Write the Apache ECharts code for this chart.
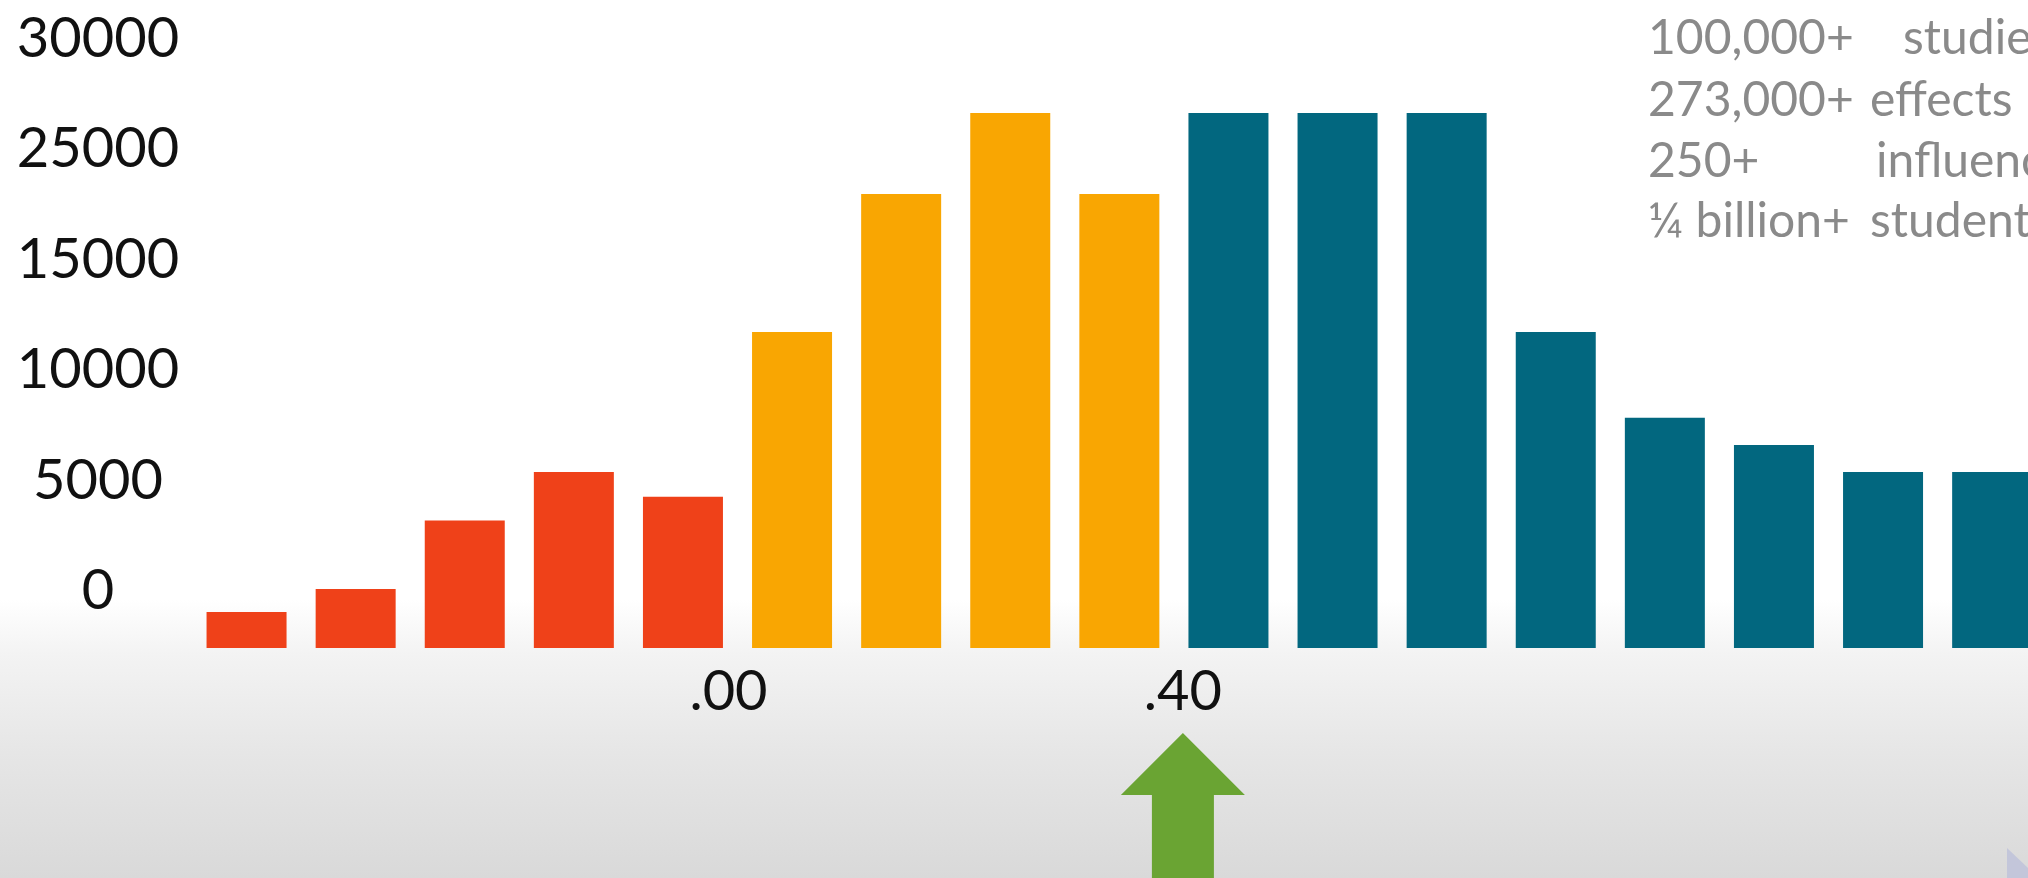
<!DOCTYPE html>
<html>
<head>
<meta charset="utf-8">
<script src="https://cdn.jsdelivr.net/npm/echarts@6/dist/echarts.min.js"></script>
<style>
  html, body { margin: 0; padding: 0; background: #ffffff; }
  #chart { width: 2028px; height: 878px; }
</style>
</head>
<body>
<div id="chart"></div>
<script>
// Effect-size bins (lower edge of each bin)
const binStarts = [-0.5, -0.4, -0.3, -0.2, -0.1, 0.0, 0.1, 0.2, 0.3, 0.4, 0.5, 0.6, 0.7, 0.8, 0.9, 1.0, 1.1];
// Number of effects per bin (in the drawn axis scale)
const effectCounts = [1630, 2670, 5770, 7970, 6850, 14310, 20560, 24230, 20560, 24230, 24230, 24230, 14310, 10430, 9190, 7970, 7970];
// Y tick labels as printed on the slide (bottom to top)
const yTickLabels = ['0', '5000', '10000', '15000', '25000', '30000'];
// X labels shown (bin edges)
const xShownEdges = [0.0, 0.4];
// Facts panel
const factNumbers = ['100,000+', '273,000+', '250+', '\u00BC billion+'];
const factWords = ['studies', 'effects', 'influences', 'students'];

const fmtEdge = v => (v < 0 ? '-' : '') + '.' + String(Math.round(Math.abs(v) * 100)).padStart(2, '0');

const chart = echarts.init(document.getElementById('chart'));
const catW = 109.1;
const labelFont = { fontFamily: 'Lato', fontSize: 56, color: '#111111' };
const hiddenAxis = { axisLine: { show: false }, axisTick: { show: false }, splitLine: { show: false } };
const option = {
  backgroundColor: '#ffffff',
  animation: false,
  grid: [
    // bars
    { left: 192, width: catW * binStarts.length, top: 96, bottom: 230, containLabel: false, outerBoundsMode: 'none' },
    // printed y scale of the slide (sits a little above the bar baseline)
    { left: 192, width: catW * binStarts.length, top: 39, bottom: 287, containLabel: false, outerBoundsMode: 'none' }
  ],
  xAxis: [
    Object.assign({
      type: 'category',
      gridIndex: 0,
      data: binStarts.map(fmtEdge),
      axisLabel: Object.assign({
        interval: 0,
        margin: 44,
        align: 'center',
        verticalAlign: 'middle',
        padding: [0, catW, 0, 0],
        formatter: (val, idx) => {
          const e = binStarts[idx];
          if (!xShownEdges.some(s => Math.abs(s - e) < 1e-9)) return '';
          return (e < 0.2 ? '{l|' : '{r|') + val + '}';
        },
        rich: {
          l: Object.assign({ padding: [0, 18, 0, 0] }, labelFont),
          r: Object.assign({ padding: [0, 0, 0, 18] }, labelFont)
        }
      }, labelFont)
    }, hiddenAxis),
    Object.assign({
      type: 'category', gridIndex: 1, data: binStarts.map(fmtEdge), show: false
    }, hiddenAxis)
  ],
  yAxis: [
    Object.assign({
      type: 'value', gridIndex: 0, min: 0, max: 25000, interval: 5000,
      axisLabel: { show: false }
    }, hiddenAxis),
    Object.assign({
      type: 'value', gridIndex: 1, min: 0, max: 25000, interval: 5000,
      axisLabel: Object.assign({
        margin: 94,
        align: 'center',
        verticalAlign: 'middle',
        showMinLabel: true,
        showMaxLabel: true,
        formatter: v => yTickLabels[Math.round(v / 5000)]
      }, labelFont)
    }, hiddenAxis)
  ],
  series: [{
    type: 'bar',
    xAxisIndex: 0,
    yAxisIndex: 0,
    data: effectCounts,
    barWidth: 80,
    itemStyle: {
      color: p => {
        const e = binStarts[p.dataIndex];
        if (e < -1e-9) return '#ef4119';
        if (e < 0.4 - 1e-9) return '#f9a602';
        return '#02677f';
      }
    }
  }]
};
chart.setOption(option);

// Annotation graphics
const p8 = chart.convertToPixel({ xAxisIndex: 0 }, 8);
const p9 = chart.convertToPixel({ xAxisIndex: 0 }, 9);
const ax = (p8 + p9) / 2 + 9;
const graphics = [
  {
    type: 'rect', z: -10, silent: true,
    shape: { x: 0, y: 600, width: 2028, height: 278 },
    style: {
      fill: new echarts.graphic.LinearGradient(0, 0, 0, 1, [
        { offset: 0, color: '#ffffff' },
        { offset: 0.2, color: '#f3f3f3' },
        { offset: 0.55, color: '#e6e6e6' },
        { offset: 1, color: '#d9d9d9' }
      ])
    }
  },
  {
    type: 'polygon', silent: true,
    shape: { points: [[ax, 733], [ax + 62, 795], [ax + 31, 795], [ax + 31, 878], [ax - 31, 878], [ax - 31, 795], [ax - 62, 795]] },
    style: { fill: '#6aa433' }
  },
  {
    type: 'polygon', silent: true,
    shape: { points: [[2007, 848], [2028, 868], [2028, 878], [2007, 878]] },
    style: { fill: '#c3c6da' }
  }
];
const lineY = [39, 101, 162, 222];
const wordX = [1903, 1870, 1876, 1870];
factNumbers.forEach((t, i) => {
  graphics.push({ type: 'text', silent: true, x: 1648, y: lineY[i], style: { text: t, fill: '#8a8a8a', font: '48px Lato', verticalAlign: 'middle' } });
  graphics.push({ type: 'text', silent: true, x: wordX[i], y: lineY[i], style: { text: factWords[i], fill: '#8a8a8a', font: '48px Lato', verticalAlign: 'middle' } });
});
chart.setOption({ graphic: graphics });
</script>
</body>
</html>
